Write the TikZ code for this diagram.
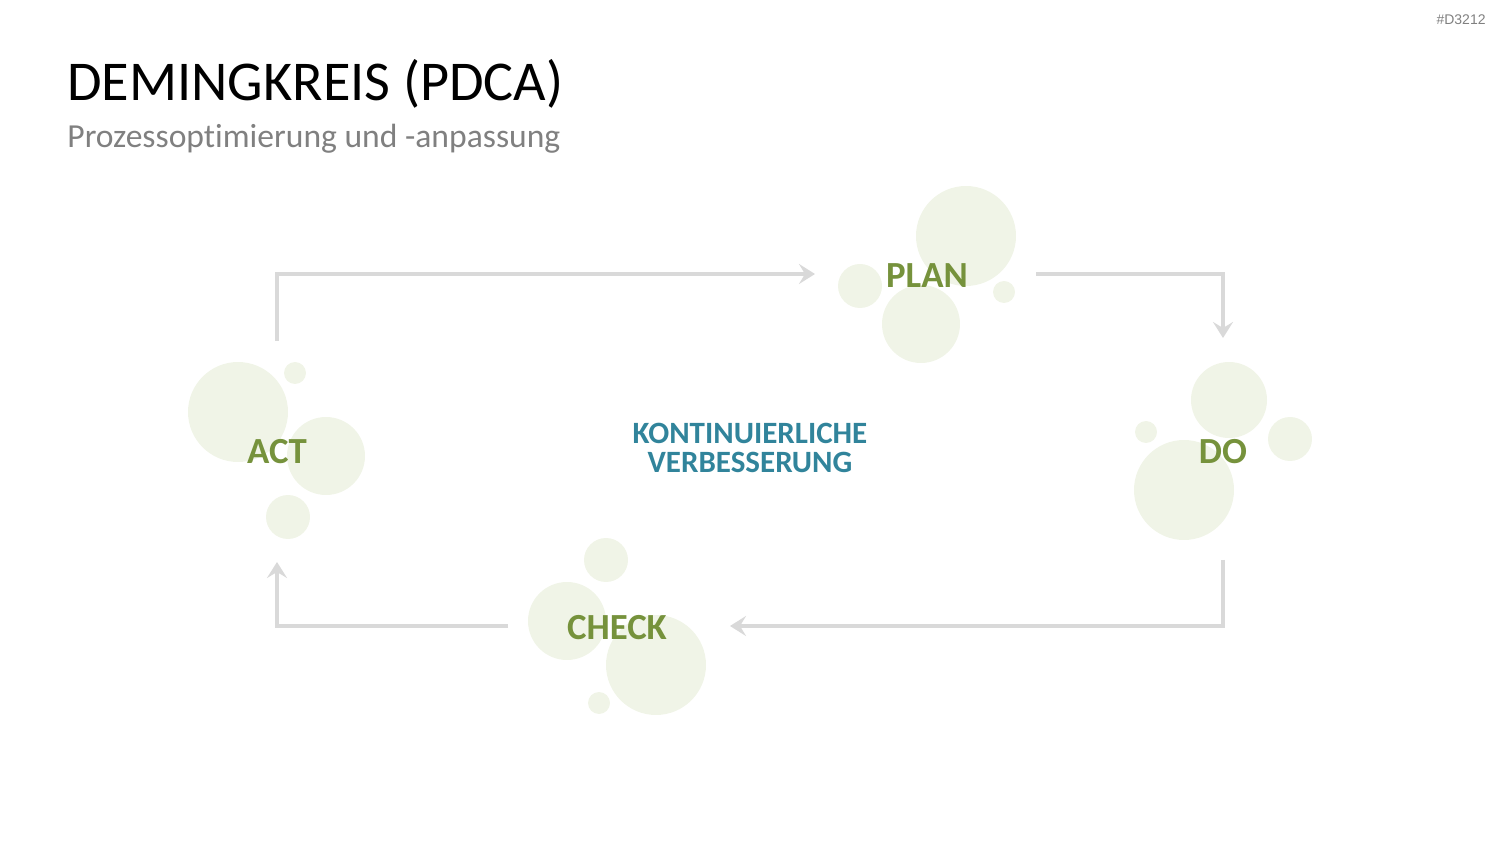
\documentclass[tikz,border=0pt]{standalone}
\usepackage{fontspec}
\setmainfont[RawFeature=-liga]{Carlito}
\newfontfamily\tagfont{Liberation Sans}
\usepackage{tikz}
\usetikzlibrary{arrows.meta,positioning}

\definecolor{pdcagreen}{HTML}{76923C}
\definecolor{pdcateal}{HTML}{31849B}
\definecolor{bubble}{HTML}{F0F4E7}
\definecolor{linegray}{HTML}{D9D9D9}

\begin{document}
\begin{tikzpicture}[
  x=0.5pt, y=-0.5pt,
  >={Stealth[length=8pt, width=10pt, inset=3pt]},
  stage/.style={font=\bfseries\fontsize{18.4}{20}\selectfont, text=pdcagreen, inner sep=0pt},
  blob/.style={fill=bubble},
  arr/.style={->, draw=linegray, line width=2pt}
]
  \useasboundingbox (0,0) rectangle (1500,844);

  % header
  \node[anchor=base west, inner sep=0pt, font=\fontsize{28.1}{32}\selectfont] (title) at (67,101) {DEMINGKREIS (PDCA)};
  \node[anchor=base west, inner sep=0pt, font=\fontsize{16.8}{19}\selectfont, text=black!50] (subtitle) at (67,148) {Prozessoptimierung und -anpassung};
  \node[anchor=east, inner sep=0pt, font=\tagfont\fontsize{7}{8}\selectfont, text=black!50] (tag) at (1486,20) {\#D3212};

  % bubbles
  \fill[blob] (966,236) circle (50) (921,324) circle (39) (860,286) circle (22) (1004,292) circle (11);
  \fill[blob] (1184,490) circle (50) (1229,400) circle (38) (1290,439) circle (22) (1146,432) circle (11);
  \fill[blob] (238,412) circle (50) (326,456) circle (39) (288,517) circle (22) (295,373) circle (11);
  \fill[blob] (656,665) circle (50) (567,621) circle (39) (606,560) circle (22) (599,703) circle (11);

  % stages
  \node[stage] (plan) at (927,276) {PLAN};
  \node[stage] (do) at (1223,452) {DO};
  \node[stage] (check) at (617,628) {CHECK};
  \node[stage] (act) at (277,452) {ACT};
  \node[align=center, inner sep=0pt, text=pdcateal, font=\bfseries\fontsize{15.5}{14.5}\selectfont] (center) at (750,448) {KONTINUIERLICHE\\VERBESSERUNG};

  % arrow ends
  \coordinate (act-out) at (277,341);
  \coordinate (plan-in) at (815,274);
  \coordinate (plan-out) at (1036,274);
  \coordinate (do-in) at (1223,338);
  \coordinate (do-out) at (1223,560);
  \coordinate (check-in) at (730,626);
  \coordinate (check-out) at (508,626);
  \coordinate (act-in) at (277,562);

  \draw[arr] (act-out) |- (plan-in);
  \draw[arr] (plan-out) -| (do-in);
  \draw[arr] (do-out) |- (check-in);
  \draw[arr] (check-out) -| (act-in);
\end{tikzpicture}
\end{document}
